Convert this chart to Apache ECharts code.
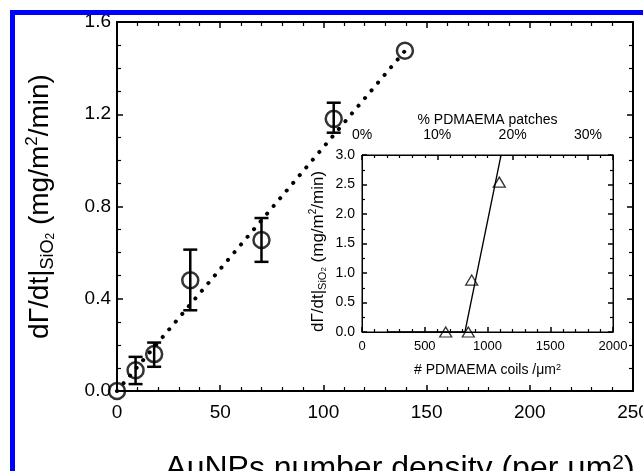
<!DOCTYPE html>
<html>
<head>
<meta charset="utf-8">
<script src="https://cdn.jsdelivr.net/npm/echarts@6/dist/echarts.min.js"></script>
<style>
  html, body { margin: 0; padding: 0; background: #fff; }
  #main { width: 643px; height: 471px; }
</style>
</head>
<body>
<div id="main"></div>
<script>
// main plot: AuNPs density vs deposition rate
const densX = [0, 9, 18, 35.5, 70, 105, 139.5]
const rateY = [0, 0.09, 0.16, 0.48, 0.655, 1.18, 1.475]
const errLo = [null, 0.03, 0.105, 0.35, 0.56, 1.12, null]
const errHi = [null, 0.148, 0.21, 0.613, 0.75, 1.25, null]
const fitX = [0, 140]
const fitY = [0, 1.48]

// inset: PDMAEMA coils vs rate
const coilX = [667, 847, 874, 1094]
const coilY = [0, 0, 0.88, 2.54]
const coilFitX = [200, 820, 1108]
const coilFitY = [0, 0, 3.0]

const font = 'Liberation Sans, Arial, sans-serif'
const chart = echarts.init(document.getElementById('main'))

let errData = []
for (let i = 0; i < densX.length; i++) {
    if (errLo[i] != null) errData.push([densX[i], errLo[i], errHi[i]])
}

function mainAxis(extra) {
    return Object.assign({
        axisLine: { show: true, onZero: false, lineStyle: { color: '#000', width: 2 }},
        axisTick: { inside: true, length: 6, lineStyle: { color: '#000', width: 1.5 }},
        splitLine: { show: false },
    }, extra)
}
function insetAxis(extra) {
    return Object.assign({
        axisLine: { show: true, onZero: false, lineStyle: { color: '#000', width: 1 }},
        axisTick: { inside: true, length: 5, lineStyle: { color: '#000', width: 1.5 }},
        splitLine: { show: false },
    }, extra)
}

chart.setOption({
    backgroundColor: '#fff',
    animation: false,
    textStyle: { fontFamily: font, color: '#000' },
    graphic: [{
        type: 'rect',
        shape: { x: 12.5, y: 12.5, width: 700, height: 600 },
        style: { fill: 'none', stroke: '#0000ff', lineWidth: 5 },
        z: 100,
    }],
    grid: [
        { left: 117, right: 10, top: 22, bottom: 80, outerBoundsMode: 'none', containLabel: false },
        { left: 362, right: 30, top: 155, bottom: 139, outerBoundsMode: 'none', containLabel: false,
          show: true, backgroundColor: 'transparent', borderWidth: 1, borderColor: '#000' },
    ],
    xAxis: [
        mainAxis({
            gridIndex: 0, type: 'value', min: 0, max: 250, interval: 50, position: 'bottom',
            minorTick: { show: true, splitNumber: 5, length: 4, lineStyle: { color: '#000', width: 1.2 }},
            axisLabel: { fontSize: 19, color: '#000', margin: 12, fontFamily: font },
            name: 'AuNPs number density (per μm{sup|2})',
            nameLocation: 'middle', nameGap: 62,
            nameTextStyle: {
                fontSize: 32, color: '#000', fontFamily: font, padding: [0, 0, 0, 50],
                rich: { sup: { fontSize: 21, verticalAlign: 'top', fontFamily: font, color: '#000' }},
            },
        }),
        mainAxis({
            gridIndex: 0, type: 'value', min: 0, max: 250, interval: 50, position: 'top',
            minorTick: { show: true, splitNumber: 5, length: 4, lineStyle: { color: '#000', width: 1.2 }},
            axisLabel: { show: false },
        }),
        insetAxis({
            gridIndex: 1, type: 'value', min: 0, max: 2000, interval: 500, position: 'bottom',
            minorTick: { show: true, splitNumber: 5, length: 3, lineStyle: { color: '#000', width: 1.2 }},
            axisLabel: { fontSize: 13, color: '#000', margin: 8, fontFamily: font, formatter: v => String(v) },
            name: '# PDMAEMA coils /μm{sup|2}',
            nameLocation: 'middle', nameGap: 31,
            nameTextStyle: {
                fontSize: 14, color: '#000', fontFamily: font,
                rich: { sup: { fontSize: 9, verticalAlign: 'top', fontFamily: font, color: '#000' }},
            },
        }),
        insetAxis({
            gridIndex: 1, type: 'value', min: 0, max: 2000, interval: 600, position: 'top',
            minorTick: { show: true, splitNumber: 6, length: 3, lineStyle: { color: '#000', width: 1.2 }},
            axisLabel: {
                fontSize: 14, color: '#000', margin: 13, fontFamily: font, showMaxLabel: false,
                formatter: v => Math.round(v / 60) + '%',
            },
            name: '% PDMAEMA patches',
            nameLocation: 'middle', nameGap: 28,
            nameTextStyle: { fontSize: 14, color: '#000', fontFamily: font },
        }),
    ],
    yAxis: [
        mainAxis({
            gridIndex: 0, type: 'value', min: 0, max: 1.6, interval: 0.4, position: 'left',
            minorTick: { show: true, splitNumber: 4, length: 4, lineStyle: { color: '#000', width: 1.2 }},
            axisLabel: { fontSize: 19, color: '#000', margin: 6, fontFamily: font, formatter: v => v.toFixed(1) },
            name: 'dΓ/dt|{sub|SiO}{sub2|2} (mg/m{sup|2}/min)',
            nameLocation: 'middle', nameGap: 60,
            nameTextStyle: {
                fontSize: 28, color: '#000', fontFamily: font, lineHeight: 33,
                rich: {
                    sub: { fontSize: 18, verticalAlign: 'bottom', fontFamily: font, color: '#000' },
                    sub2: { fontSize: 12, verticalAlign: 'bottom', fontFamily: font, color: '#000' },
                    sup: { fontSize: 17, verticalAlign: 'top', fontFamily: font, color: '#000' },
                },
            },
        }),
        mainAxis({
            gridIndex: 0, type: 'value', min: 0, max: 1.6, interval: 0.4, position: 'right',
            minorTick: { show: true, splitNumber: 4, length: 4, lineStyle: { color: '#000', width: 1.2 }},
            axisLabel: { show: false },
        }),
        insetAxis({
            gridIndex: 1, type: 'value', min: 0, max: 3, interval: 0.5, position: 'left',
            minorTick: { show: true, splitNumber: 2, length: 3, lineStyle: { color: '#000', width: 1.2 }},
            axisLabel: { fontSize: 14, color: '#000', margin: 7, fontFamily: font, formatter: v => v.toFixed(1) },
            name: 'dΓ/dt|{sub|SiO}{sub2|2} (mg/m{sup|2}/min)',
            nameLocation: 'middle', nameGap: 34,
            nameTextStyle: {
                fontSize: 17, color: '#000', fontFamily: font, lineHeight: 20, padding: [0, 16, 0, 0],
                rich: {
                    sub: { fontSize: 11, verticalAlign: 'bottom', fontFamily: font, color: '#000' },
                    sub2: { fontSize: 8, verticalAlign: 'bottom', fontFamily: font, color: '#000' },
                    sup: { fontSize: 10, verticalAlign: 'top', fontFamily: font, color: '#000' },
                },
            },
        }),
        insetAxis({
            gridIndex: 1, type: 'value', min: 0, max: 3, interval: 0.5, position: 'right',
            minorTick: { show: true, splitNumber: 2, length: 3, lineStyle: { color: '#000', width: 1.2 }},
            axisLabel: { show: false },
        }),
    ],
    series: [
        {
            type: 'line', xAxisIndex: 0, yAxisIndex: 0,
            data: fitX.map((x, i) => [x, fitY[i]]),
            showSymbol: false, symbol: 'none',
            lineStyle: { color: '#000', width: 4, type: [0.1, 10], cap: 'round' },
            z: 2,
        },
        {
            type: 'custom', xAxisIndex: 0, yAxisIndex: 0,
            data: errData,
            encode: { x: 0, y: [1, 2] },
            renderItem: (params, api) => {
                let x = api.value(0)
                let lo = api.coord([x, api.value(1)])
                let hi = api.coord([x, api.value(2)])
                let w = 7
                let st = { stroke: '#000', lineWidth: 2.5 }
                return {
                    type: 'group',
                    children: [
                        { type: 'line', shape: { x1: lo[0], y1: lo[1], x2: hi[0], y2: hi[1] }, style: st },
                        { type: 'line', shape: { x1: lo[0] - w, y1: lo[1], x2: lo[0] + w, y2: lo[1] }, style: st },
                        { type: 'line', shape: { x1: hi[0] - w, y1: hi[1], x2: hi[0] + w, y2: hi[1] }, style: st },
                    ],
                }
            },
            z: 3,
        },
        {
            type: 'scatter', xAxisIndex: 0, yAxisIndex: 0,
            data: densX.map((x, i) => [x, rateY[i]]),
            symbol: 'circle', symbolSize: 16,
            itemStyle: { color: 'rgba(0,0,0,0)', borderColor: '#000', borderWidth: 2.5 },
            z: 4,
        },
        {
            type: 'line', xAxisIndex: 2, yAxisIndex: 2,
            data: coilFitX.map((x, i) => [x, coilFitY[i]]),
            showSymbol: false, symbol: 'none',
            lineStyle: { color: '#000', width: 1.3 },
        },
        {
            type: 'scatter', xAxisIndex: 2, yAxisIndex: 2,
            data: coilX.map((x, i) => [x, coilY[i]]),
            symbol: 'triangle', symbolSize: [12, 10],
            itemStyle: { color: 'rgba(0,0,0,0)', borderColor: '#000', borderWidth: 1.3 },
        },
    ],
})
</script>
</body>
</html>
